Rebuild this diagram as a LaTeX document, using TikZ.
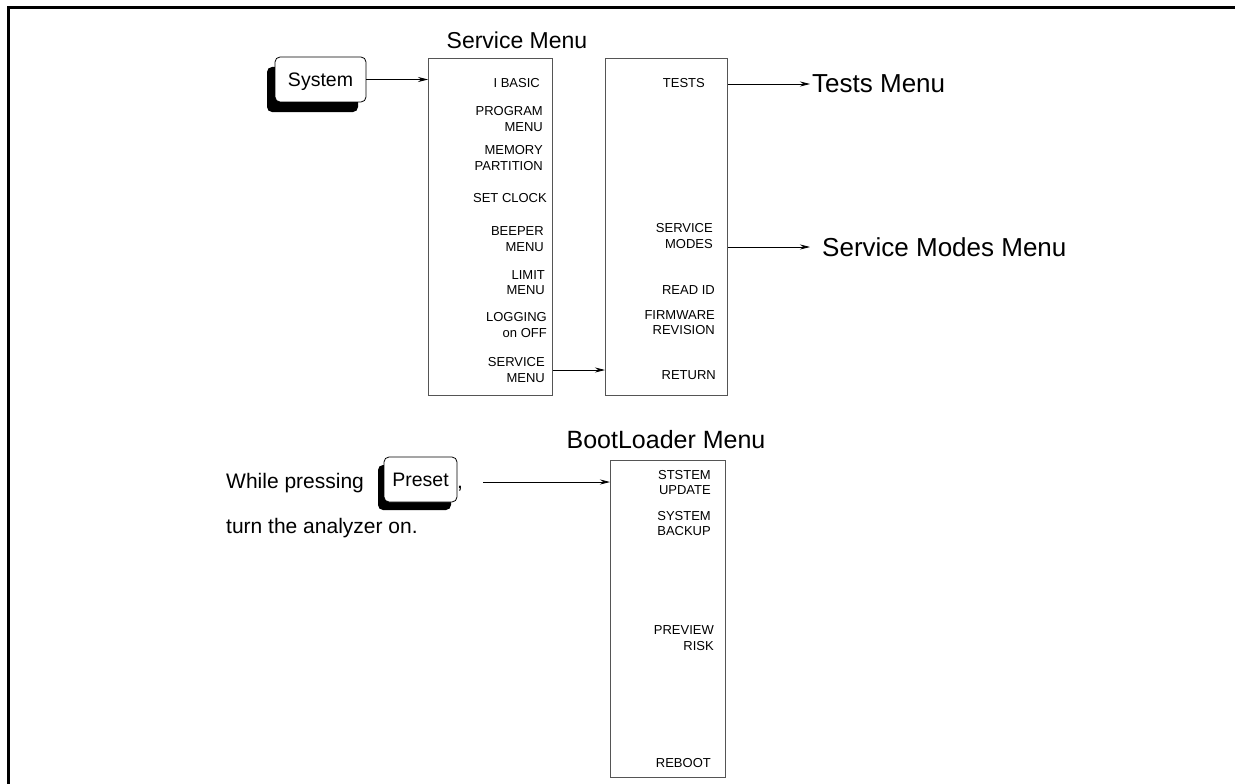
\documentclass[tikz,border=0pt]{standalone}
\usepackage{fontspec}
\setmainfont{Liberation Sans}
\usepackage{tikz}
\usetikzlibrary{arrows.meta,positioning,shadows}
\definecolor{boxgray}{RGB}{85,85,85}

\begin{document}
\begin{tikzpicture}[x=1pt,y=-1pt,
		menubox/.style={draw=boxgray, line width=1.1pt, inner sep=0pt, anchor=north west},
		item/.style={anchor=east, align=right, inner sep=0pt, font=\fontsize{13}{15.5}\selectfont},
		title/.style={inner sep=0pt, font=\fontsize{24}{28}\selectfont},
		target/.style={anchor=west, inner sep=0pt, font=\fontsize{26}{30}\selectfont},
		plain/.style={anchor=base west, inner sep=0pt, font=\fontsize{21}{25}\selectfont},
		key/.style={draw=black, line width=0.8pt, fill=white, rounded corners=5pt, inner sep=0pt,
			minimum height=45pt, text depth=0pt, font=\fontsize{19.5}{22}\selectfont},
		link/.style={line width=0.8pt, -{Stealth[length=10pt,width=5pt]}}]
			\useasboundingbox (0,0) rectangle (1235,784);
			\draw[line width=3pt] (8,790) -- (8,8) -- (1240,8);
			
			\node[title, font=\fontsize{23}{28}\selectfont] (svctitle) at (517,40) {Service Menu};
			\node[key, minimum width=91pt, drop shadow={shadow xshift=-8pt, shadow yshift=-10pt, fill=black, opacity=1}] (system) at (320.5,79.5) {System};
			
			\node[menubox, minimum width=124pt, minimum height=337pt] (svc1) at (428,58) {};
			\node[item] (ibasic) at (540,83) {I BASIC};
			\node[item] (progmenu) at (543,119) {PROGRAM\\MENU};
			\node[item] (mempart) at (543,158) {MEMORY\\PARTITION};
			\node[item] (setclock) at (547,198) {SET CLOCK};
			\node[item] (beeper) at (544,239) {BEEPER\\MENU};
			\node[item] (limit) at (545,282.5) {LIMIT\\MENU};
			\node[item] (logging) at (547,325) {LOGGING\\on OFF};
			\node[item] (svcmenu) at (545,370) {SERVICE\\MENU};
			
			\node[menubox, minimum width=122pt, minimum height=337pt] (svc2) at (605,58) {};
			\node[item] (tests) at (705,83) {TESTS};
			\node[item] (svcmodes) at (713,236) {SERVICE\\MODES};
			\node[item] (readid) at (715,290) {READ ID};
			\node[item] (firmware) at (715,322.5) {FIRMWARE\\REVISION};
			\node[item] (retn) at (716,375) {RETURN};
			
			\node[target] (testsmenu) at (812,84) {Tests Menu};
			\node[target] (svcmodesmenu) at (822,247) {Service Modes Menu};
			
			\draw[link] (system.east) -- (svc1.west |- system.east);
			\draw[link] (svc1.east |- svcmenu.east) -- (svc2.west |- svcmenu.east);
			\draw[link] (svc2.east |- testsmenu.west) -- ([xshift=-2pt]testsmenu.west);
			\draw[link] (svc2.east |- svcmodesmenu.west) -- ([xshift=-12pt]svcmodesmenu.west);
			
			\node[title, font=\fontsize{25}{30}\selectfont] (boottitle) at (666,440) {BootLoader Menu};
			\node[plain] (while) at (226,488.5) {While pressing};
			\node[key, minimum width=73pt, drop shadow={shadow xshift=-6pt, shadow yshift=-8pt, fill=black, opacity=1}] (preset) at (420.5,479.5) {Preset};
			\node[plain] (comma) at (457,488.5) {,};
			\node[plain] (turnon) at (226,533) {turn the analyzer on.};
			
			\node[menubox, minimum width=115pt, minimum height=317pt] (boot) at (610,460) {};
			\node[item] (ststem) at (711,482.5) {STSTEM\\UPDATE};
			\node[item] (backup) at (711,523.5) {SYSTEM\\BACKUP};
			\node[item] (preview) at (714,638) {PREVIEW\\RISK};
			\node[item] (reboot) at (711,763) {REBOOT};
			
			\coordinate (bootfrom) at (483,482);
			\draw[link] (bootfrom) -- (boot.west |- bootfrom);
		\end{tikzpicture}
\end{document}
